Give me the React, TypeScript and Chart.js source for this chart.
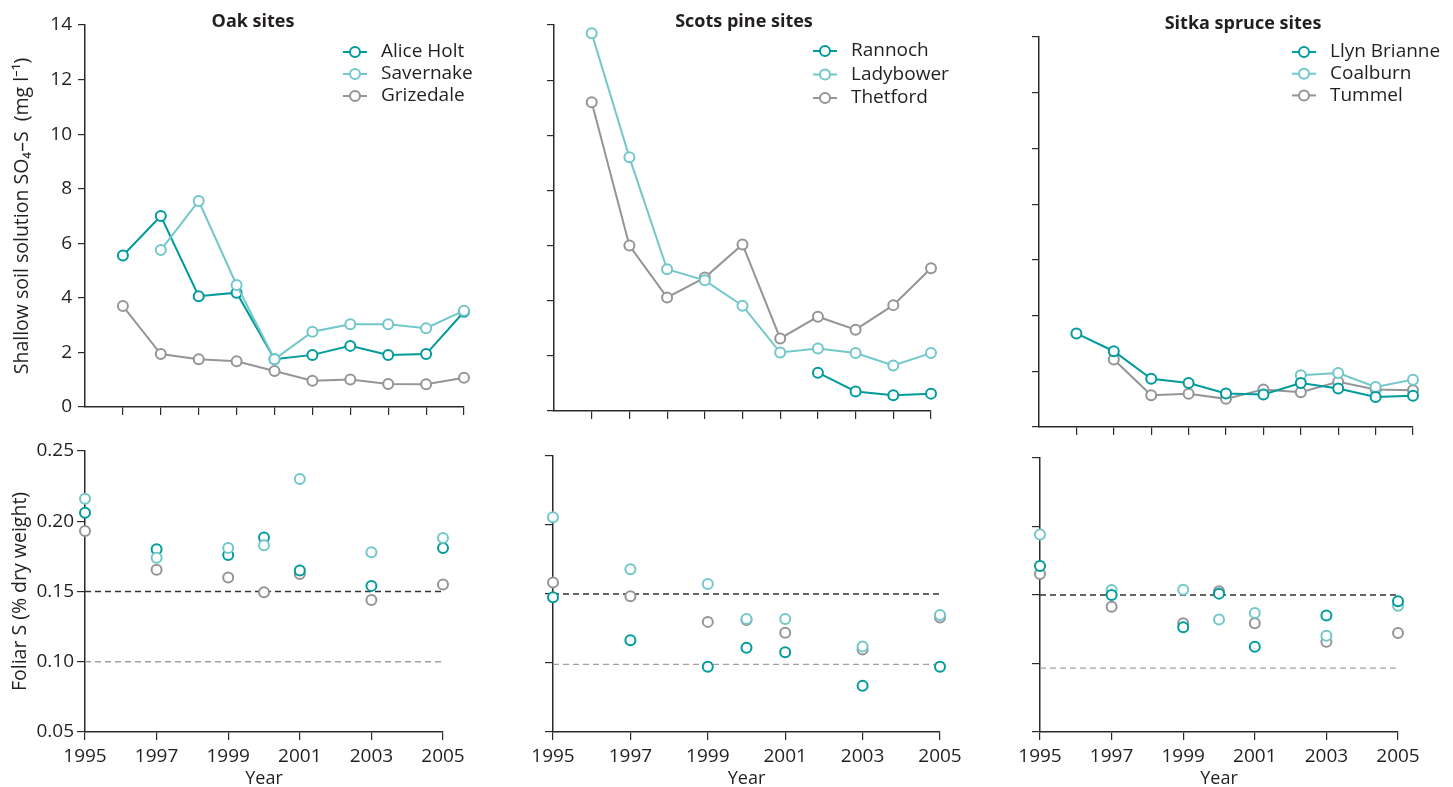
import React, { useEffect, useRef } from "react";
import { Chart, registerables } from "chart.js";

Chart.register(...registerables);

const FONT = "'Open Sans', 'Noto Sans', 'DejaVu Sans', sans-serif";
const TEXT = "#231f20";
const AXIS = "#2b2b2b";
const DARK_TEAL = "#009b9b";
const LIGHT_TEAL = "#72c7ca";
const GREY = "#949599";

// ---------- data ----------
const TOP_YEARS = [1996, 1997, 1998, 1999, 2000, 2001, 2002, 2003, 2004, 2005];
const TOP_X_TICKS = [1996, 1997, 1998, 1999, 2000, 2001, 2002, 2003, 2004, 2005];
const SO4_Y_TICKS = [0, 2, 4, 6, 8, 10, 12, 14];

const FOLIAR_YEARS = [1995, 1997, 1999, 2000, 2001, 2003, 2005];
const FOLIAR_X_TICKS = [1995, 1997, 1999, 2001, 2003, 2005];
const FOLIAR_Y_TICKS = [0.05, 0.1, 0.15, 0.2, 0.25];

// Oak sites – shallow soil solution SO4-S (mg/l)
const ALICE_HOLT_SO4 = [5.55, 7.0, 4.06, 4.19, 1.75, 1.91, 2.24, 1.91, 1.94, 3.49];
const SAVERNAKE_SO4 = [null, 5.75, 7.55, 4.47, 1.75, 2.76, 3.03, 3.03, 2.89, 3.53];
const GRIZEDALE_SO4 = [3.7, 1.94, 1.75, 1.68, 1.32, 0.96, 1.01, 0.84, 0.83, 1.07];

// Scots pine sites
const RANNOCH_SO4 = [null, null, null, null, null, null, 1.39, 0.71, 0.57, 0.63];
const LADYBOWER_SO4 = [13.7, 9.2, 5.14, 4.74, 3.82, 2.12, 2.27, 2.1, 1.65, 2.1];
const THETFORD_SO4 = [11.2, 6.0, 4.12, 4.84, 6.04, 2.63, 3.42, 2.95, 3.84, 5.18];

// Sitka spruce sites
const LLYN_BRIANNE_SO4 = [3.36, 2.72, 1.73, 1.58, 1.2, 1.17, 1.58, 1.38, 1.08, 1.12];
const COALBURN_SO4 = [null, null, null, null, null, null, 1.86, 1.94, 1.44, 1.7];
const TUMMEL_SO4 = [null, 2.42, 1.14, 1.19, 1.01, 1.35, 1.25, 1.62, 1.35, 1.32];

// Foliar S (% dry weight)
const ALICE_HOLT_FOLIAR = [0.206, 0.18, 0.176, 0.1885, 0.165, 0.154, 0.181];
const SAVERNAKE_FOLIAR = [0.216, 0.174, 0.181, 0.183, 0.23, 0.178, 0.188];
const GRIZEDALE_FOLIAR = [0.193, 0.1655, 0.16, 0.1494, 0.1624, 0.144, 0.155];

const RANNOCH_FOLIAR = [0.1476, 0.1165, 0.0972, 0.111, 0.1078, 0.0835, 0.0972];
const LADYBOWER_FOLIAR = [0.2057, 0.168, 0.1572, 0.1319, 0.1319, 0.1119, 0.1348];
const THETFORD_FOLIAR = [0.1584, 0.1483, 0.1298, 0.1312, 0.122, 0.1097, 0.1329];

const LLYN_BRIANNE_FOLIAR = [0.1712, 0.15, 0.1264, 0.151, 0.1122, 0.1351, 0.1454];
const COALBURN_FOLIAR = [0.1941, 0.1537, 0.1539, 0.1322, 0.1368, 0.1202, 0.1422];
const TUMMEL_FOLIAR = [0.1654, 0.1414, 0.1293, 0.1527, 0.1293, 0.1158, 0.1222];

// reference thresholds
const OAK_THRESHOLDS = [0.15, 0.1];
const PINE_THRESHOLDS = [0.15, 0.099];
const SPRUCE_THRESHOLDS = [0.15, 0.0966];
const THRESHOLD_SPAN = [1995, 2005];

// ---------- helpers ----------
function siteSeries(label, years, values, color, order, rank, withLine) {
  return {
    type: "line",
    label,
    data: years.map((x, i) => ({ x, y: values[i] })),
    borderColor: color,
    backgroundColor: "#ffffff",
    pointBorderColor: color,
    pointBackgroundColor: "#ffffff",
    pointRadius: 5,
    pointHoverRadius: 5,
    pointBorderWidth: 2,
    borderWidth: 2,
    showLine: withLine,
    spanGaps: false,
    order,
    legendRank: rank,
    clip: false,
  };
}

function thresholdSeries(value, color, width) {
  return {
    type: "line",
    label: "",
    data: THRESHOLD_SPAN.map((x) => ({ x, y: value })),
    borderColor: color,
    borderWidth: width,
    borderDash: [6, 4],
    pointRadius: 0,
    pointHoverRadius: 0,
    order: 10,
    clip: false,
  };
}

const decorPlugin = {
  id: "panelDecor",
  afterDraw(chart, _args, opts) {
    const { ctx, chartArea } = chart;
    if (!opts) return;
    ctx.save();
    if (opts.title) {
      ctx.font = `bold 18px ${FONT}`;
      ctx.fillStyle = TEXT;
      ctx.textAlign = "center";
      ctx.textBaseline = "middle";
      ctx.fillText(opts.title, chartArea.left + opts.titleDx, chartArea.top + opts.titleDy);
    }
    if (opts.legend) {
      const items = chart.data.datasets
        .filter((d) => d.legendRank != null)
        .sort((a, b) => a.legendRank - b.legendRank);
      items.forEach((ds, i) => {
        const y = chartArea.top + opts.legend.dy + i * opts.legend.step;
        const x0 = chartArea.right + opts.legend.dx;
        ctx.strokeStyle = ds.borderColor;
        ctx.lineWidth = 2;
        ctx.beginPath();
        ctx.moveTo(x0, y);
        ctx.lineTo(x0 + 24, y);
        ctx.stroke();
        ctx.beginPath();
        ctx.arc(x0 + 12, y, 5, 0, Math.PI * 2);
        ctx.fillStyle = "#ffffff";
        ctx.fill();
        ctx.stroke();
        ctx.fillStyle = TEXT;
        ctx.font = `19px ${FONT}`;
        ctx.textAlign = "left";
        ctx.textBaseline = "middle";
        ctx.fillText(ds.label, x0 + 38, y);
      });
    }
    ctx.restore();
  },
};

function buildOptions(p) {
  return {
    responsive: false,
    animation: false,
    events: [],
    layout: { padding: { top: p.padTop, right: p.padRight, left: 0, bottom: 0 } },
    plugins: {
      legend: { display: false },
      tooltip: { enabled: false },
      panelDecor: p.decor,
    },
    scales: {
      x: {
        type: "linear",
        min: 1995,
        max: 2005,
        afterBuildTicks: (s) => {
          s.ticks = p.xTicks.map((v) => ({ value: v }));
        },
        afterFit: (s) => {
          s.height = p.xH;
        },
        ticks: {
          display: p.xLabels,
          autoSkip: false,
          maxRotation: 0,
          padding: 5,
          color: TEXT,
          font: { size: 19, family: FONT },
          callback: (v) => String(v),
        },
        grid: { drawOnChartArea: false, drawTicks: true, tickLength: 8, color: AXIS, lineWidth: 1.2 },
        border: { display: true, color: AXIS, width: 1.5 },
        title: {
          display: !!p.xTitle,
          text: p.xTitle || "",
          color: TEXT,
          font: { size: 18, family: FONT },
          padding: { top: 0, bottom: 5 },
        },
      },
      y: {
        type: "linear",
        min: p.yTicks[0],
        max: p.yTicks[p.yTicks.length - 1],
        afterBuildTicks: (s) => {
          s.ticks = p.yTicks.map((v) => ({ value: v }));
        },
        afterFit: (s) => {
          s.width = p.yW;
        },
        ticks: {
          display: p.yLabels,
          padding: p.yTickPad,
          color: TEXT,
          font: { size: 19, family: FONT },
          callback: (v) => p.yFormat(v),
        },
        grid: { drawOnChartArea: false, drawTicks: true, tickLength: p.yTickLen, color: AXIS, lineWidth: 1.2 },
        border: { display: true, color: AXIS, width: 1.5 },
        title: {
          display: !!p.yTitle,
          text: p.yTitle || "",
          color: TEXT,
          font: { size: 19.5, family: FONT },
          padding: { top: p.yTitlePad || 0, bottom: 0 },
        },
      },
    },
  };
}

const soFmt = (v) => String(v);
const folFmt = (v) => Number(v).toFixed(2);

const PANELS = [
  {
    key: "oak-so4",
    left: 0, top: 0, width: 484, height: 427,
    yW: 85, xH: 20, padTop: 25, padRight: 20,
    xTicks: TOP_X_TICKS, xLabels: false,
    yTicks: SO4_Y_TICKS, yLabels: true, yFormat: soFmt, yTickPad: 6, yTickLen: 7,
    yTitle: "Shallow soil solution SO\u2084\u2013S  (mg l\u207B\u00B9)", yTitlePad: 11,
    decor: { title: "Oak sites", titleDx: 168, titleDy: -3, legend: { dx: -121, dy: 27, step: 22 } },
    datasets: [
      siteSeries("Alice Holt", TOP_YEARS, ALICE_HOLT_SO4, DARK_TEAL, 2, 0, true),
      siteSeries("Savernake", TOP_YEARS, SAVERNAKE_SO4, LIGHT_TEAL, 1, 1, true),
      siteSeries("Grizedale", TOP_YEARS, GRIZEDALE_SO4, GREY, 3, 2, true),
    ],
  },
  {
    key: "pine-so4",
    left: 544, top: 0, width: 412, height: 421,
    yW: 10, xH: 10, padTop: 25, padRight: 25,
    xTicks: TOP_X_TICKS, xLabels: false,
    yTicks: SO4_Y_TICKS, yLabels: false, yFormat: soFmt, yTickPad: 6, yTickLen: 7,
    decor: { title: "Scots pine sites", titleDx: 190, titleDy: -3.5, legend: { dx: -118, dy: 26, step: 23.5 } },
    datasets: [
      siteSeries("Rannoch", TOP_YEARS, RANNOCH_SO4, DARK_TEAL, 2, 0, true),
      siteSeries("Ladybower", TOP_YEARS, LADYBOWER_SO4, LIGHT_TEAL, 1, 1, true),
      siteSeries("Thetford", TOP_YEARS, THETFORD_SO4, GREY, 3, 2, true),
    ],
  },
  {
    key: "spruce-so4",
    left: 1029, top: 0, width: 424, height: 437,
    yW: 10, xH: 10, padTop: 37, padRight: 40,
    xTicks: TOP_X_TICKS, xLabels: false,
    yTicks: SO4_Y_TICKS, yLabels: false, yFormat: soFmt, yTickPad: 6, yTickLen: 7,
    decor: { title: "Sitka spruce sites", titleDx: 204, titleDy: -13, legend: { dx: -121, dy: 15, step: 21.7 } },
    datasets: [
      siteSeries("Llyn Brianne", TOP_YEARS, LLYN_BRIANNE_SO4, DARK_TEAL, 1, 0, true),
      siteSeries("Coalburn", TOP_YEARS, COALBURN_SO4, LIGHT_TEAL, 2, 1, true),
      siteSeries("Tummel", TOP_YEARS, TUMMEL_SO4, GREY, 3, 2, true),
    ],
  },
  {
    key: "oak-foliar",
    left: 0, top: 430, width: 473, height: 365,
    yW: 85, xH: 63, padTop: 21, padRight: 30,
    xTicks: FOLIAR_X_TICKS, xLabels: true, xTitle: "Year",
    yTicks: FOLIAR_Y_TICKS, yLabels: true, yFormat: folFmt, yTickPad: 3, yTickLen: 8,
    yTitle: "Foliar S (% dry weight)", yTitlePad: 9,
    decor: null,
    datasets: [
      siteSeries("Alice Holt", FOLIAR_YEARS, ALICE_HOLT_FOLIAR, DARK_TEAL, 2, null, false),
      siteSeries("Savernake", FOLIAR_YEARS, SAVERNAKE_FOLIAR, LIGHT_TEAL, 1, null, false),
      siteSeries("Grizedale", FOLIAR_YEARS, GRIZEDALE_FOLIAR, GREY, 3, null, false),
      thresholdSeries(OAK_THRESHOLDS[0], "#333333", 1.5),
      thresholdSeries(OAK_THRESHOLDS[1], "#a0a0a0", 1.3),
    ],
  },
  {
    key: "pine-foliar",
    left: 523, top: 430, width: 447, height: 365,
    yW: 30, xH: 63, padTop: 26, padRight: 30,
    xTicks: FOLIAR_X_TICKS, xLabels: true, xTitle: "Year",
    yTicks: FOLIAR_Y_TICKS, yLabels: false, yFormat: folFmt, yTickPad: 3, yTickLen: 8,
    decor: null,
    datasets: [
      siteSeries("Rannoch", FOLIAR_YEARS, RANNOCH_FOLIAR, DARK_TEAL, 2, null, false),
      siteSeries("Ladybower", FOLIAR_YEARS, LADYBOWER_FOLIAR, LIGHT_TEAL, 1, null, false),
      siteSeries("Thetford", FOLIAR_YEARS, THETFORD_FOLIAR, GREY, 3, null, false),
      thresholdSeries(PINE_THRESHOLDS[0], "#333333", 1.5),
      thresholdSeries(PINE_THRESHOLDS[1], "#a0a0a0", 1.3),
    ],
  },
  {
    key: "spruce-foliar",
    left: 1010, top: 430, width: 418, height: 365,
    yW: 30, xH: 63, padTop: 28, padRight: 30,
    xTicks: FOLIAR_X_TICKS, xLabels: true, xTitle: "Year",
    yTicks: FOLIAR_Y_TICKS, yLabels: false, yFormat: folFmt, yTickPad: 3, yTickLen: 8,
    decor: null,
    datasets: [
      siteSeries("Llyn Brianne", FOLIAR_YEARS, LLYN_BRIANNE_FOLIAR, DARK_TEAL, 1, null, false),
      siteSeries("Coalburn", FOLIAR_YEARS, COALBURN_FOLIAR, LIGHT_TEAL, 2, null, false),
      siteSeries("Tummel", FOLIAR_YEARS, TUMMEL_FOLIAR, GREY, 3, null, false),
      thresholdSeries(SPRUCE_THRESHOLDS[0], "#333333", 1.5),
      thresholdSeries(SPRUCE_THRESHOLDS[1], "#a0a0a0", 1.3),
    ],
  },
];

function Panel({ spec }) {
  const ref = useRef(null);
  useEffect(() => {
    const chart = new Chart(ref.current, {
      type: "line",
      data: { datasets: spec.datasets },
      options: buildOptions(spec),
      plugins: [decorPlugin],
    });
    return () => chart.destroy();
  }, [spec]);
  return (
    <canvas
      ref={ref}
      width={spec.width}
      height={spec.height}
      style={{ position: "absolute", left: spec.left, top: spec.top, width: spec.width, height: spec.height }}
    />
  );
}

export default function App() {
  Chart.defaults.font.family = FONT;
  Chart.defaults.color = TEXT;
  return (
    <div
      style={{
        position: "fixed",
        left: 0,
        top: 0,
        width: 1453,
        height: 787,
        overflow: "hidden",
        background: "#ffffff",
      }}
    >
      {PANELS.map((p) => (
        <Panel key={p.key} spec={p} />
      ))}
    </div>
  );
}
